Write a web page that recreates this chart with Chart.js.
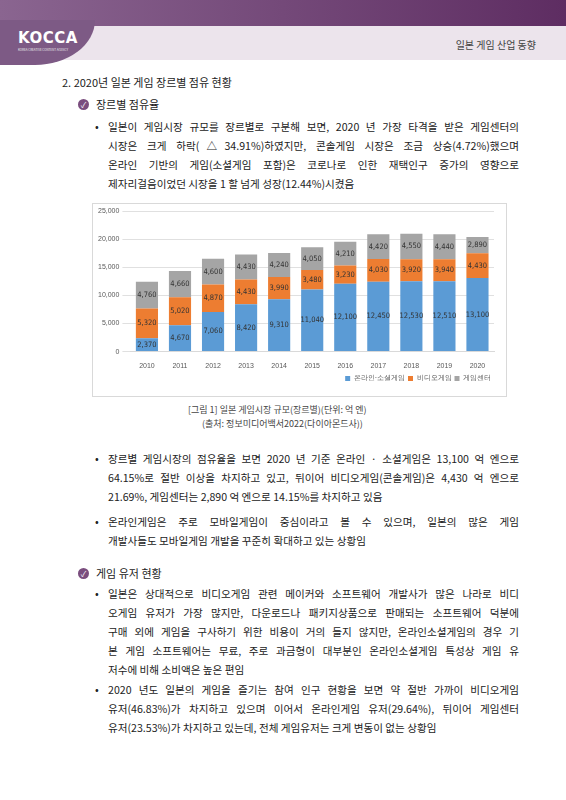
<!DOCTYPE html>
<html><head><meta charset="utf-8">
<script src="https://cdn.jsdelivr.net/npm/chart.js@4"></script>
<style>
body{margin:0;width:566px;height:800px;background:#fff;font-family:"Noto Sans CJK KR","Noto Sans",sans-serif;color:#222;position:relative;overflow:hidden}
.top{position:absolute;left:0;top:0;width:566px;height:26px;background:linear-gradient(90deg,#8a6590,#5e2d62)}
.band{position:absolute;left:0;top:26px;width:566px;height:34px;background:#ece4ec}
.swoosh{position:absolute;left:0;top:20px;width:95px;height:45px;background:#7d5a85;border-bottom-right-radius:60px 45px}
.logo{position:absolute;left:18px;top:29px;color:#fff;font:bold 15px "DejaVu Sans";letter-spacing:0.5px}
.sub{position:absolute;left:18px;top:48px;color:#eee;font-size:3px}
.hd{position:absolute;right:30px;top:37px;font-size:10px;color:#444}
.l{position:absolute;font-size:10.6px;white-space:nowrap}
.j{text-align:justify;text-align-last:justify;white-space:normal}
.chk{position:absolute;width:11px;height:11px;border-radius:50%;background:#7a4d7e;color:#fff;font-size:8px;line-height:11px;text-align:center}
.dot{position:absolute;font-size:11px}
#box{position:absolute;left:92px;top:203px;width:415px;height:194px;border:1px solid #d9d9d9;box-sizing:border-box}
</style></head><body>
<div class="top"></div><div class="band"></div><div class="swoosh"></div>
<div class="logo">KOCCA</div><div class="sub">KOREA CREATIVE CONTENT AGENCY</div>
<div class="hd">일본 게임 산업 동향</div>

<div class="l" style="left:62px;top:74px;font-size:11px">2. 2020년 일본 게임 장르별 점유 현황</div>
<div class="chk" style="left:78px;top:99px">✓</div>
<div class="l" style="left:96px;top:96px;font-size:11px">장르별 점유율</div>
<div class="dot" style="left:95px;top:118px">•</div>
<div class="l j" style="left:108px;top:119px;width:411px">일본이 게임시장 규모를 장르별로 구분해 보면, 2020 년 가장 타격을 받은 게임센터의</div>
<div class="l j" style="left:108px;top:138px;width:411px">시장은 크게 하락(△34.91%)하였지만, 콘솔게임 시장은 조금 상승(4.72%)했으며</div>
<div class="l j" style="left:108px;top:157px;width:411px">온라인 기반의 게임(소셜게임 포함)은 코로나로 인한 재택인구 증가의 영향으로</div>
<div class="l" style="left:108px;top:176px">제자리걸음이었던 시장을 1 할 넘게 성장(12.44%)시켰음</div>

<div id="box"><canvas id="c" width="413" height="192"></canvas></div>

<div class="l" style="left:188px;top:403px;font-size:9px;color:#444">[그림 1] 일본 게임시장 규모(장르별)(단위: 억 엔)</div>
<div class="l" style="left:202px;top:417px;font-size:9px;color:#444">(출처: 정보미디어백서2022(다이아몬드사))</div>

<div class="dot" style="left:95px;top:450px">•</div>
<div class="l j" style="left:108px;top:451px;width:411px">장르별 게임시장의 점유율을 보면 2020 년 기준 온라인 · 소셜게임은 13,100 억 엔으로</div>
<div class="l j" style="left:108px;top:470px;width:411px">64.15%로 절반 이상을 차지하고 있고, 뒤이어 비디오게임(콘솔게임)은 4,430 억 엔으로</div>
<div class="l" style="left:108px;top:489px">21.69%, 게임센터는 2,890 억 엔으로 14.15%를 차지하고 있음</div>
<div class="dot" style="left:95px;top:513px">•</div>
<div class="l j" style="left:108px;top:514px;width:411px">온라인게임은 주로 모바일게임이 중심이라고 볼 수 있으며, 일본의 많은 게임</div>
<div class="l" style="left:108px;top:533px">개발사들도 모바일게임 개발을 꾸준히 확대하고 있는 상황임</div>

<div class="chk" style="left:78px;top:568px">✓</div>
<div class="l" style="left:96px;top:565px;font-size:11px">게임 유저 현황</div>
<div class="dot" style="left:95px;top:585px">•</div>
<div class="l j" style="left:108px;top:586px;width:411px">일본은 상대적으로 비디오게임 관련 메이커와 소프트웨어 개발사가 많은 나라로 비디</div>
<div class="l j" style="left:108px;top:605px;width:411px">오게임 유저가 가장 많지만, 다운로드나 패키지상품으로 판매되는 소프트웨어 덕분에</div>
<div class="l j" style="left:108px;top:624px;width:411px">구매 외에 게임을 구사하기 위한 비용이 거의 들지 않지만, 온라인소셜게임의 경우 기</div>
<div class="l j" style="left:108px;top:643px;width:411px">본 게임 소프트웨어는 무료, 주로 과금형이 대부분인 온라인소셜게임 특성상 게임 유</div>
<div class="l" style="left:108px;top:662px">저수에 비해 소비액은 높은 편임</div>
<div class="dot" style="left:95px;top:681px">•</div>
<div class="l j" style="left:108px;top:682px;width:411px">2020 년도 일본의 게임을 즐기는 참여 인구 현황을 보면 약 절반 가까이 비디오게임</div>
<div class="l j" style="left:108px;top:701px;width:411px">유저(46.83%)가 차지하고 있으며 이어서 온라인게임 유저(29.64%), 뒤이어 게임센터</div>
<div class="l" style="left:108px;top:720px">유저(23.53%)가 차지하고 있는데, 전체 게임유저는 크게 변동이 없는 상황임</div>

<script>
const years = ['2010','2011','2012','2013','2014','2015','2016','2017','2018','2019','2020'];
const online = [2370,4670,7060,8420,9310,11040,12100,12450,12530,12510,13100];
const video = [5320,5020,4870,4430,3990,3480,3230,4030,3920,3940,4430];
const center = [4760,4660,4600,4430,4240,4050,4210,4420,4550,4440,2890];

const labelPlugin = {
  id: 'labels',
  afterDatasetsDraw(chart) {
    const ctx = chart.ctx;
    ctx.save();
    ctx.font = '7.5px "Liberation Sans Narrow","DejaVu Sans Condensed",sans-serif';
    ctx.fillStyle = '#333';
    ctx.textAlign = 'center';
    ctx.textBaseline = 'middle';
    chart.data.datasets.forEach((ds, i) => {
      chart.getDatasetMeta(i).data.forEach((bar, j) => {
        const y = (bar.y + bar.base) / 2;
        ctx.fillText(ds.data[j].toLocaleString('en-US'), bar.x, y);
      });
    });
    ctx.restore();
  }
};

new Chart(document.getElementById('c'), {
  type: 'bar',
  data: {
    labels: years,
    datasets: [
      { label: '온라인·소셜게임', data: online, backgroundColor: '#5b9bd5' },
      { label: '비디오게임', data: video, backgroundColor: '#ed7d31' },
      { label: '게임센터', data: center, backgroundColor: '#a5a5a5' }
    ]
  },
  options: {
    responsive: false,
    animation: false,
    layout: { padding: { left: 2, right: 12, top: 6, bottom: 4 } },
    datasets: { bar: { categoryPercentage: 1, barPercentage: 0.67 } },
    scales: {
      x: { stacked: true, grid: { display: false }, border: { color: '#d9d9d9' },
           ticks: { color: '#595959', font: { size: 7 }, padding: 2 } },
      y: { stacked: true, min: 0, max: 25000, border: { display: false },
           ticks: { stepSize: 5000, color: '#595959', font: { size: 7 },
                    callback: v => v.toLocaleString('en-US') },
           grid: { color: '#e0e0e0' } }
    },
    plugins: {
      legend: { position: 'bottom', align: 'end',
                labels: { boxWidth: 5, boxHeight: 5, padding: 3, color: '#595959', font: { size: 7 } } },
      tooltip: { enabled: false }
    }
  },
  plugins: [labelPlugin]
});
</script>
</body></html>
